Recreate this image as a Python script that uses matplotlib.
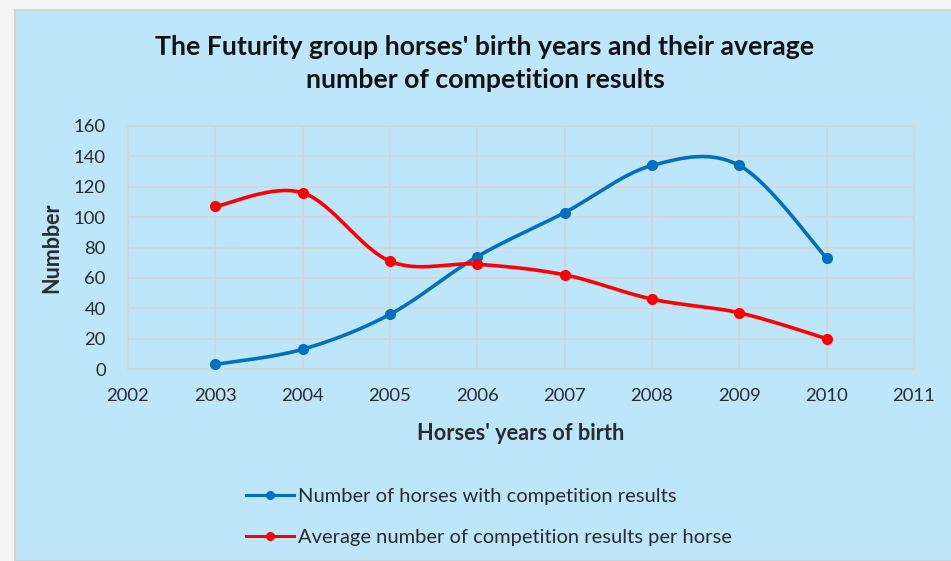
import numpy as np
import matplotlib
matplotlib.use("Agg")
import matplotlib.pyplot as plt
from matplotlib.patches import Rectangle
from matplotlib.lines import Line2D

plt.rcParams['font.family'] = ['Lato', 'DejaVu Sans']

# 数据
years = [2003, 2004, 2005, 2006, 2007, 2008, 2009, 2010]
horses_with_results = [3, 13, 36, 74, 103, 134, 134, 73]
avg_results_per_horse = [107, 116, 71, 69, 62, 46, 37, 20]
series_names = ["Number of horses with competition results",
                "Average number of competition results per horse"]
y_ticks = [0, 20, 40, 60, 80, 100, 120, 140, 160]
x_ticks = list(range(2002, 2012))

BG = "#BDE6FB"
BLUE = "#0070C0"
RED = "#FF0000"
TXT = "#2B2B2B"


def smooth(xs, ys, n=30):
    # Excel 风格的平滑线（Catmull-Rom 样条）
    xs = np.asarray(xs, float)
    ys = np.asarray(ys, float)
    px = np.concatenate([[xs[0]], xs, [xs[-1]]])
    py = np.concatenate([[ys[0]], ys, [ys[-1]]])
    out_x, out_y = [], []
    t = np.linspace(0, 1, n)
    for i in range(1, len(px) - 2):
        p0, p1, p2, p3 = [np.array([px[j], py[j]]) for j in range(i - 1, i + 3)]
        c1 = p1 + (p2 - p0) / 6
        c2 = p2 - (p3 - p1) / 6
        b = ((1 - t) ** 3)[:, None] * p1 + (3 * (1 - t) ** 2 * t)[:, None] * c1 \
            + (3 * (1 - t) * t ** 2)[:, None] * c2 + (t ** 3)[:, None] * p2
        out_x.extend(b[:, 0])
        out_y.extend(b[:, 1])
    return out_x, out_y


fig = plt.figure(figsize=(9.51, 5.61), dpi=100)
fig.patch.set_facecolor("#F4F4F4")
bg = Rectangle((15 / 951, 0), 1, 1 - 10 / 561, transform=fig.transFigure,
               facecolor=BG, edgecolor="#D0D0D0", linewidth=1.2, zorder=-10)
fig.patches.append(bg)

ax = fig.add_axes([128 / 951, 1 - 369 / 561, (914 - 128) / 951, (369 - 126) / 561])
ax.set_facecolor(BG)

for vals, col in [(horses_with_results, BLUE), (avg_results_per_horse, RED)]:
    sx, sy = smooth(years, vals)
    ax.plot(sx, sy, color=col, linewidth=2.6, solid_capstyle="round", zorder=3)
    ax.plot(years, vals, "o", color=col, markersize=7, zorder=4)

ax.set_xlim(2002, 2011)
ax.set_ylim(0, 160)
ax.set_xticks(x_ticks)
ax.set_yticks(y_ticks)
ax.grid(True, color="#D6D6D6", linewidth=1.2)
ax.set_axisbelow(True)
for s in ax.spines.values():
    s.set_color("#D6D6D6")
    s.set_linewidth(1.2)
ax.tick_params(length=0, labelsize=13.3, colors=TXT, pad=14)
ax.tick_params(axis="y", pad=16)

ax.set_ylabel("Numbber", fontsize=15.5, fontweight="bold", color=TXT, labelpad=8)
ax.set_xlabel("Horses' years of birth", fontsize=15.7, fontweight="bold", color=TXT, labelpad=13)

fig.text(485 / 951, 1 - 64 / 561,
         "The Futurity group horses' birth years and their average\nnumber of competition results",
         ha="center", va="center", fontsize=19.2, fontweight="bold", color="#111111",
         linespacing=1.45)

handles = [Line2D([], [], color=BLUE, linewidth=2.2, marker="o", markersize=5.5),
           Line2D([], [], color=RED, linewidth=2.2, marker="o", markersize=5.5)]
fig.legend(handles, series_names, loc="center left",
           bbox_to_anchor=(236 / 951, 1 - 517 / 561), frameon=False, borderpad=0,
           fontsize=14.5, labelcolor=TXT, handlelength=2.4, handletextpad=0.2,
           labelspacing=1.2)

fig.savefig("out.png", dpi=100, facecolor=fig.get_facecolor())
